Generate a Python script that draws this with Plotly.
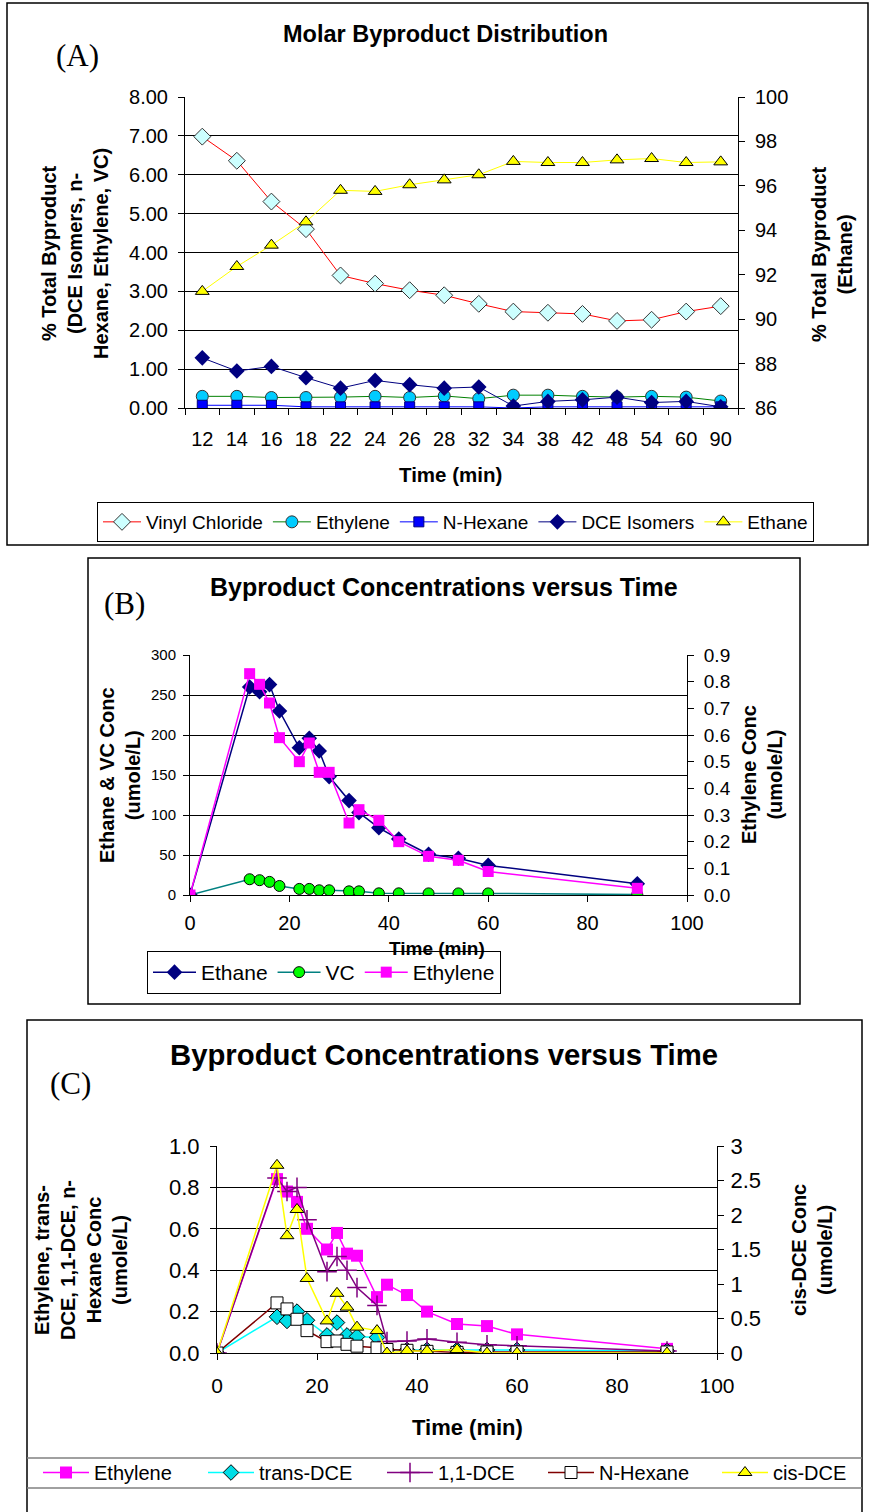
import plotly.graph_objects as go

W, H = 870, 1512

# ---- (A) Molar byproduct distribution (% of total byproduct) ----
a_time = ["12", "14", "16", "18", "22", "24", "26", "28", "32", "34", "38", "42", "48", "54", "60", "90"]
a_vinyl_chloride = [6.98, 6.36, 5.31, 4.60, 3.41, 3.20, 3.03, 2.90, 2.68, 2.48, 2.45, 2.42, 2.24, 2.27, 2.48, 2.62]
a_ethylene = [0.30, 0.30, 0.27, 0.27, 0.28, 0.30, 0.27, 0.31, 0.24, 0.33, 0.33, 0.30, 0.28, 0.30, 0.28, 0.18]
a_n_hexane = [0.07, 0.07, 0.07, 0.03, 0.03, 0.03, 0.03, 0.03, 0.03, 0.00, 0.03, 0.03, 0.03, 0.03, 0.03, 0.03]
a_dce_isomers = [1.29, 0.95, 1.07, 0.78, 0.51, 0.71, 0.60, 0.51, 0.54, 0.05, 0.17, 0.21, 0.28, 0.14, 0.17, 0.03]
a_ethane = [91.25, 92.37, 93.33, 94.38, 95.80, 95.75, 96.05, 96.27, 96.50, 97.10, 97.05, 97.05, 97.17, 97.23, 97.05, 97.08]

# ---- (B) Ethane / VC / Ethylene concentrations (umole/L) ----
b_time = [0, 12, 14, 16, 18, 22, 24, 26, 28, 32, 34, 38, 42, 48, 54, 60, 90]
b_ethane = [0, 260, 254, 263, 230, 184, 196, 180, 148, 118, 103, 84, 70, 51, 46, 37, 14]
b_vc = [0, 19.7, 18.5, 16.4, 11.3, 7.6, 7.6, 5.9, 5.9, 4.6, 4.6, 2.1, 2.1, 2.0, 2.0, 2.0, 0.5]
b_ethylene = [0, 0.83, 0.79, 0.72, 0.59, 0.50, 0.57, 0.46, 0.46, 0.27, 0.32, 0.28, 0.20, 0.145, 0.13, 0.088, 0.025]

# ---- (C) Minor byproduct concentrations (umole/L) ----
c_time = [0, 12, 14, 16, 18, 22, 24, 26, 28, 32, 34, 38, 42, 48, 54, 60, 90]
c_ethylene = [0, 0.84, 0.78, 0.73, 0.60, 0.50, 0.58, 0.48, 0.47, 0.27, 0.33, 0.28, 0.20, 0.14, 0.13, 0.09, 0.02]
c_trans_dce = [0, 0.175, 0.155, 0.20, 0.158, 0.085, 0.147, 0.085, 0.08, 0.075, 0.015, 0.015, 0.015, 0.015, 0.015, 0.015, 0.01]
c_11_dce = [0, 0.846, 0.78, 0.80, 0.644, 0.393, 0.466, 0.40, 0.316, 0.23, 0.055, 0.058, 0.068, 0.052, 0.04, 0.035, 0.01]
c_n_hexane = [0, 0.242, 0.213, 0.163, 0.108, 0.055, 0.058, 0.042, 0.033, 0.025, 0.017, 0.013, 0.008, 0.003, 0.005, 0.005, 0.005]
c_cis_dce = [0, 2.72, 1.70, 2.08, 1.08, 0.465, 0.865, 0.665, 0.375, 0.325, 0.0, 0.03, 0.03, 0.05, 0.0, 0.0, 0.0]


def px(x):
    return x / W


def py(y):
    return 1 - y / H


FONT = "Arial, Liberation Sans, sans-serif"
SERIF = "Times New Roman, Liberation Serif, serif"

fig = go.Figure()

# ---------------- panel A ----------------
fig.add_trace(go.Scatter(x=a_time, y=a_vinyl_chloride, name="Vinyl Chloride", mode="lines+markers",
                         line=dict(color="#FF0000", width=1),
                         marker=dict(symbol="diamond", size=13, color="#CCFFFF", line=dict(color="#333333", width=1)),
                         xaxis="x", yaxis="y", legend="legend"))
fig.add_trace(go.Scatter(x=a_time, y=a_ethylene, name="Ethylene", mode="lines+markers",
                         line=dict(color="#008000", width=1),
                         marker=dict(symbol="circle", size=12, color="#00CCFF", line=dict(color="#333333", width=1)),
                         xaxis="x", yaxis="y", legend="legend"))
fig.add_trace(go.Scatter(x=a_time, y=a_n_hexane, name="N-Hexane", mode="lines+markers",
                         line=dict(color="#0000FF", width=1),
                         marker=dict(symbol="square", size=10, color="#0000FF", line=dict(color="#000080", width=1)),
                         xaxis="x", yaxis="y", legend="legend"))
fig.add_trace(go.Scatter(x=a_time, y=a_dce_isomers, name="DCE Isomers", mode="lines+markers",
                         line=dict(color="#000080", width=1),
                         marker=dict(symbol="diamond", size=12, color="#000080"),
                         xaxis="x", yaxis="y", legend="legend"))
fig.add_trace(go.Scatter(x=a_time, y=a_ethane, name="Ethane", mode="lines+markers",
                         line=dict(color="#FFFF00", width=1),
                         marker=dict(symbol="triangle-up", size=12, color="#FFFF00", line=dict(color="#000000", width=1)),
                         xaxis="x", yaxis="y2", legend="legend"))

# ---------------- panel B ----------------
fig.add_trace(go.Scatter(x=b_time, y=b_ethane, name="Ethane", mode="lines+markers",
                         line=dict(color="#000080", width=1.5),
                         marker=dict(symbol="diamond", size=12, color="#000080"),
                         xaxis="x2", yaxis="y3", legend="legend2"))
fig.add_trace(go.Scatter(x=b_time, y=b_vc, name="VC", mode="lines+markers",
                         line=dict(color="#008080", width=1.5),
                         marker=dict(symbol="circle", size=11, color="#00FF00", line=dict(color="#000000", width=1)),
                         xaxis="x2", yaxis="y3", legend="legend2"))
fig.add_trace(go.Scatter(x=b_time, y=b_ethylene, name="Ethylene", mode="lines+markers",
                         line=dict(color="#FF00FF", width=1.5),
                         marker=dict(symbol="square", size=11, color="#FF00FF"),
                         xaxis="x2", yaxis="y4", legend="legend2"))

# ---------------- panel C ----------------
fig.add_trace(go.Scatter(x=c_time, y=c_ethylene, name="Ethylene", mode="lines+markers",
                         line=dict(color="#FF00FF", width=1.5),
                         marker=dict(symbol="square", size=12, color="#FF00FF"),
                         xaxis="x3", yaxis="y5", legend="legend3", legendwidth=104))
fig.add_trace(go.Scatter(x=c_time, y=c_trans_dce, name="trans-DCE", mode="lines+markers",
                         line=dict(color="#00FFFF", width=1.5),
                         marker=dict(symbol="diamond", size=12, color="#00DDE6", line=dict(color="#000000", width=1)),
                         xaxis="x3", yaxis="y5", legend="legend3", legendwidth=118))
fig.add_trace(go.Scatter(x=c_time, y=c_11_dce, name="1,1-DCE", mode="lines+markers",
                         line=dict(color="#800080", width=1.5),
                         marker=dict(symbol="cross-thin", size=14, color="#800080", line=dict(color="#800080", width=1.5)),
                         xaxis="x3", yaxis="y5", legend="legend3", legendwidth=100))
fig.add_trace(go.Scatter(x=c_time, y=c_n_hexane, name="N-Hexane", mode="lines+markers",
                         line=dict(color="#800000", width=1.5),
                         marker=dict(symbol="square", size=12, color="#FFFFFF", line=dict(color="#000000", width=1)),
                         xaxis="x3", yaxis="y5", legend="legend3", legendwidth=113))
fig.add_trace(go.Scatter(x=c_time, y=c_cis_dce, name="cis-DCE", mode="lines+markers",
                         line=dict(color="#FFFF00", width=1.5),
                         marker=dict(symbol="triangle-up", size=12, color="#FFFF00", line=dict(color="#000000", width=1)),
                         xaxis="x3", yaxis="y6", legend="legend3", legendwidth=80))

tick_common = dict(ticks="outside", ticklen=6, tickcolor="#000000", showline=True,
                   linecolor="#000000", linewidth=1, zeroline=False)

a_dom_x = [px(185), px(738)]
a_dom_y = [py(408), py(97)]
b_dom_x = [px(190), px(687)]
b_dom_y = [py(895), py(655)]
c_dom_x = [px(217), px(717)]
c_dom_y = [py(1353), py(1146)]

fig.update_layout(
    width=W, height=H,
    margin=dict(l=0, r=0, t=0, b=0, autoexpand=False),
    paper_bgcolor="white", plot_bgcolor="white",
    font=dict(family=FONT, color="#000000"),
    # panel A axes
    xaxis=dict(domain=a_dom_x, anchor="y", type="category", range=[-0.5, 15.5],
               tickson="boundaries", showgrid=False, ticklabelstandoff=13,
               tickfont=dict(size=20), **tick_common),
    yaxis=dict(domain=a_dom_y, anchor="x", range=[0, 8], dtick=1, tickformat=".2f",
               showgrid=True, gridcolor="#000000", gridwidth=1, ticklabelstandoff=6,
               tickfont=dict(size=20), **tick_common),
    yaxis2=dict(domain=a_dom_y, anchor="x", overlaying="y", side="right", range=[86, 100], dtick=2,
                showgrid=False, ticklabelstandoff=6, tickfont=dict(size=20), **tick_common),
    # panel B axes
    xaxis2=dict(domain=b_dom_x, anchor="y3", range=[0, 100], dtick=20, showgrid=False,
                ticklabelstandoff=4, tickfont=dict(size=20), **tick_common),
    yaxis3=dict(domain=b_dom_y, anchor="x2", range=[0, 300], dtick=50, showgrid=True,
                gridcolor="#000000", ticklabelstandoff=4, tickfont=dict(size=15), **tick_common),
    yaxis4=dict(domain=b_dom_y, anchor="x2", overlaying="y3", side="right", range=[0, 0.9], dtick=0.1,
                tickformat=".1f", showgrid=False, ticklabelstandoff=6, tickfont=dict(size=19), **tick_common),
    # panel C axes
    xaxis3=dict(domain=c_dom_x, anchor="y5", range=[0, 100], dtick=20, showgrid=False,
                ticklabelstandoff=8, tickfont=dict(size=21), **tick_common),
    yaxis5=dict(domain=c_dom_y, anchor="x3", range=[0, 1.0], dtick=0.2, tickformat=".1f", showgrid=True,
                gridcolor="#000000", ticklabelstandoff=6, tickfont=dict(size=22), **tick_common),
    yaxis6=dict(domain=c_dom_y, anchor="x3", overlaying="y5", side="right", range=[0, 3], dtick=0.5,
                showgrid=False, ticklabelstandoff=2, tickfont=dict(size=22), **tick_common),
    legend=dict(orientation="h", x=px(97), y=py(502), xanchor="left", yanchor="top",
                bordercolor="#000000", borderwidth=1, bgcolor="white",
                font=dict(size=19), itemwidth=38, tracegroupgap=0),
    legend2=dict(orientation="h", x=px(147), y=py(951), xanchor="left", yanchor="top",
                 bordercolor="#000000", borderwidth=1, bgcolor="white",
                 font=dict(size=21), itemwidth=43),
    legend3=dict(orientation="h", x=px(38), y=py(1453), xanchor="left", yanchor="top",
                 borderwidth=0, bgcolor="rgba(0,0,0,0)",
                 font=dict(size=20), itemwidth=46),
    showlegend=True,
)

# panel frames and the legend band of panel C
shapes = [
    dict(type="rect", xref="paper", yref="paper", x0=px(7), y0=py(545), x1=px(868), y1=py(3),
         line=dict(color="#000000", width=1.5)),
    dict(type="rect", xref="paper", yref="paper", x0=px(88), y0=py(1004), x1=px(800), y1=py(558),
         line=dict(color="#000000", width=1.5)),
    dict(type="rect", xref="paper", yref="paper", x0=px(27), y0=py(1513), x1=px(862), y1=py(1020),
         line=dict(color="#000000", width=1.5)),
    dict(type="line", xref="paper", yref="paper", x0=px(27), y0=py(1458), x1=px(862), y1=py(1458),
         line=dict(color="#808080", width=1.5)),
    dict(type="line", xref="paper", yref="paper", x0=px(27), y0=py(1488), x1=px(862), y1=py(1488),
         line=dict(color="#808080", width=1.5)),
]
fig.update_layout(shapes=shapes)


def label(text, x, y, size, bold=True, angle=0, family=FONT):
    fig.add_annotation(text=f"<b>{text}</b>" if bold else text, x=px(x), y=py(y), xref="paper", yref="paper",
                       showarrow=False, textangle=angle, font=dict(size=size, family=family, color="#000000"),
                       xanchor="center", yanchor="middle")


# panel A text
label("Molar Byproduct Distribution", 445, 34, 23.5)
label("(A)", 77, 56, 31, bold=False, family=SERIF)
label("% Total Byproduct<br>(DCE Isomers, n-<br>Hexane, Ethylene, VC)", 75, 254, 20, angle=-90)
label("% Total Byproduct<br>(Ethane)", 832, 254, 20, angle=-90)
label("Time (min)", 450, 475, 20.5)

# panel B text
label("Byproduct Concentrations versus Time", 444, 587, 25)
label("(B)", 125, 603, 31, bold=False, family=SERIF)
label("Ethane &amp; VC Conc<br>(umole/L)", 120, 775, 20, angle=-90)
label("Ethylene Conc<br>(umole/L)", 762, 775, 20, angle=-90)
label("Time (min)", 437, 948, 19)

# panel C text
label("Byproduct Concentrations versus Time", 444, 1054, 29.3)
label("(C)", 70, 1083, 31, bold=False, family=SERIF)
label("Ethylene, trans-<br>DCE, 1,1-DCE, n-<br>Hexane Conc<br>(umole/L)", 81, 1260, 20, angle=-90)
label("cis-DCE Conc<br>(umole/L)", 812, 1250, 20, angle=-90)
label("Time (min)", 467, 1427, 22)

fig.write_html("out.html", config={"displayModeBar": False},
               post_script="document.body.style.margin='0px';document.body.style.overflow='hidden';")
